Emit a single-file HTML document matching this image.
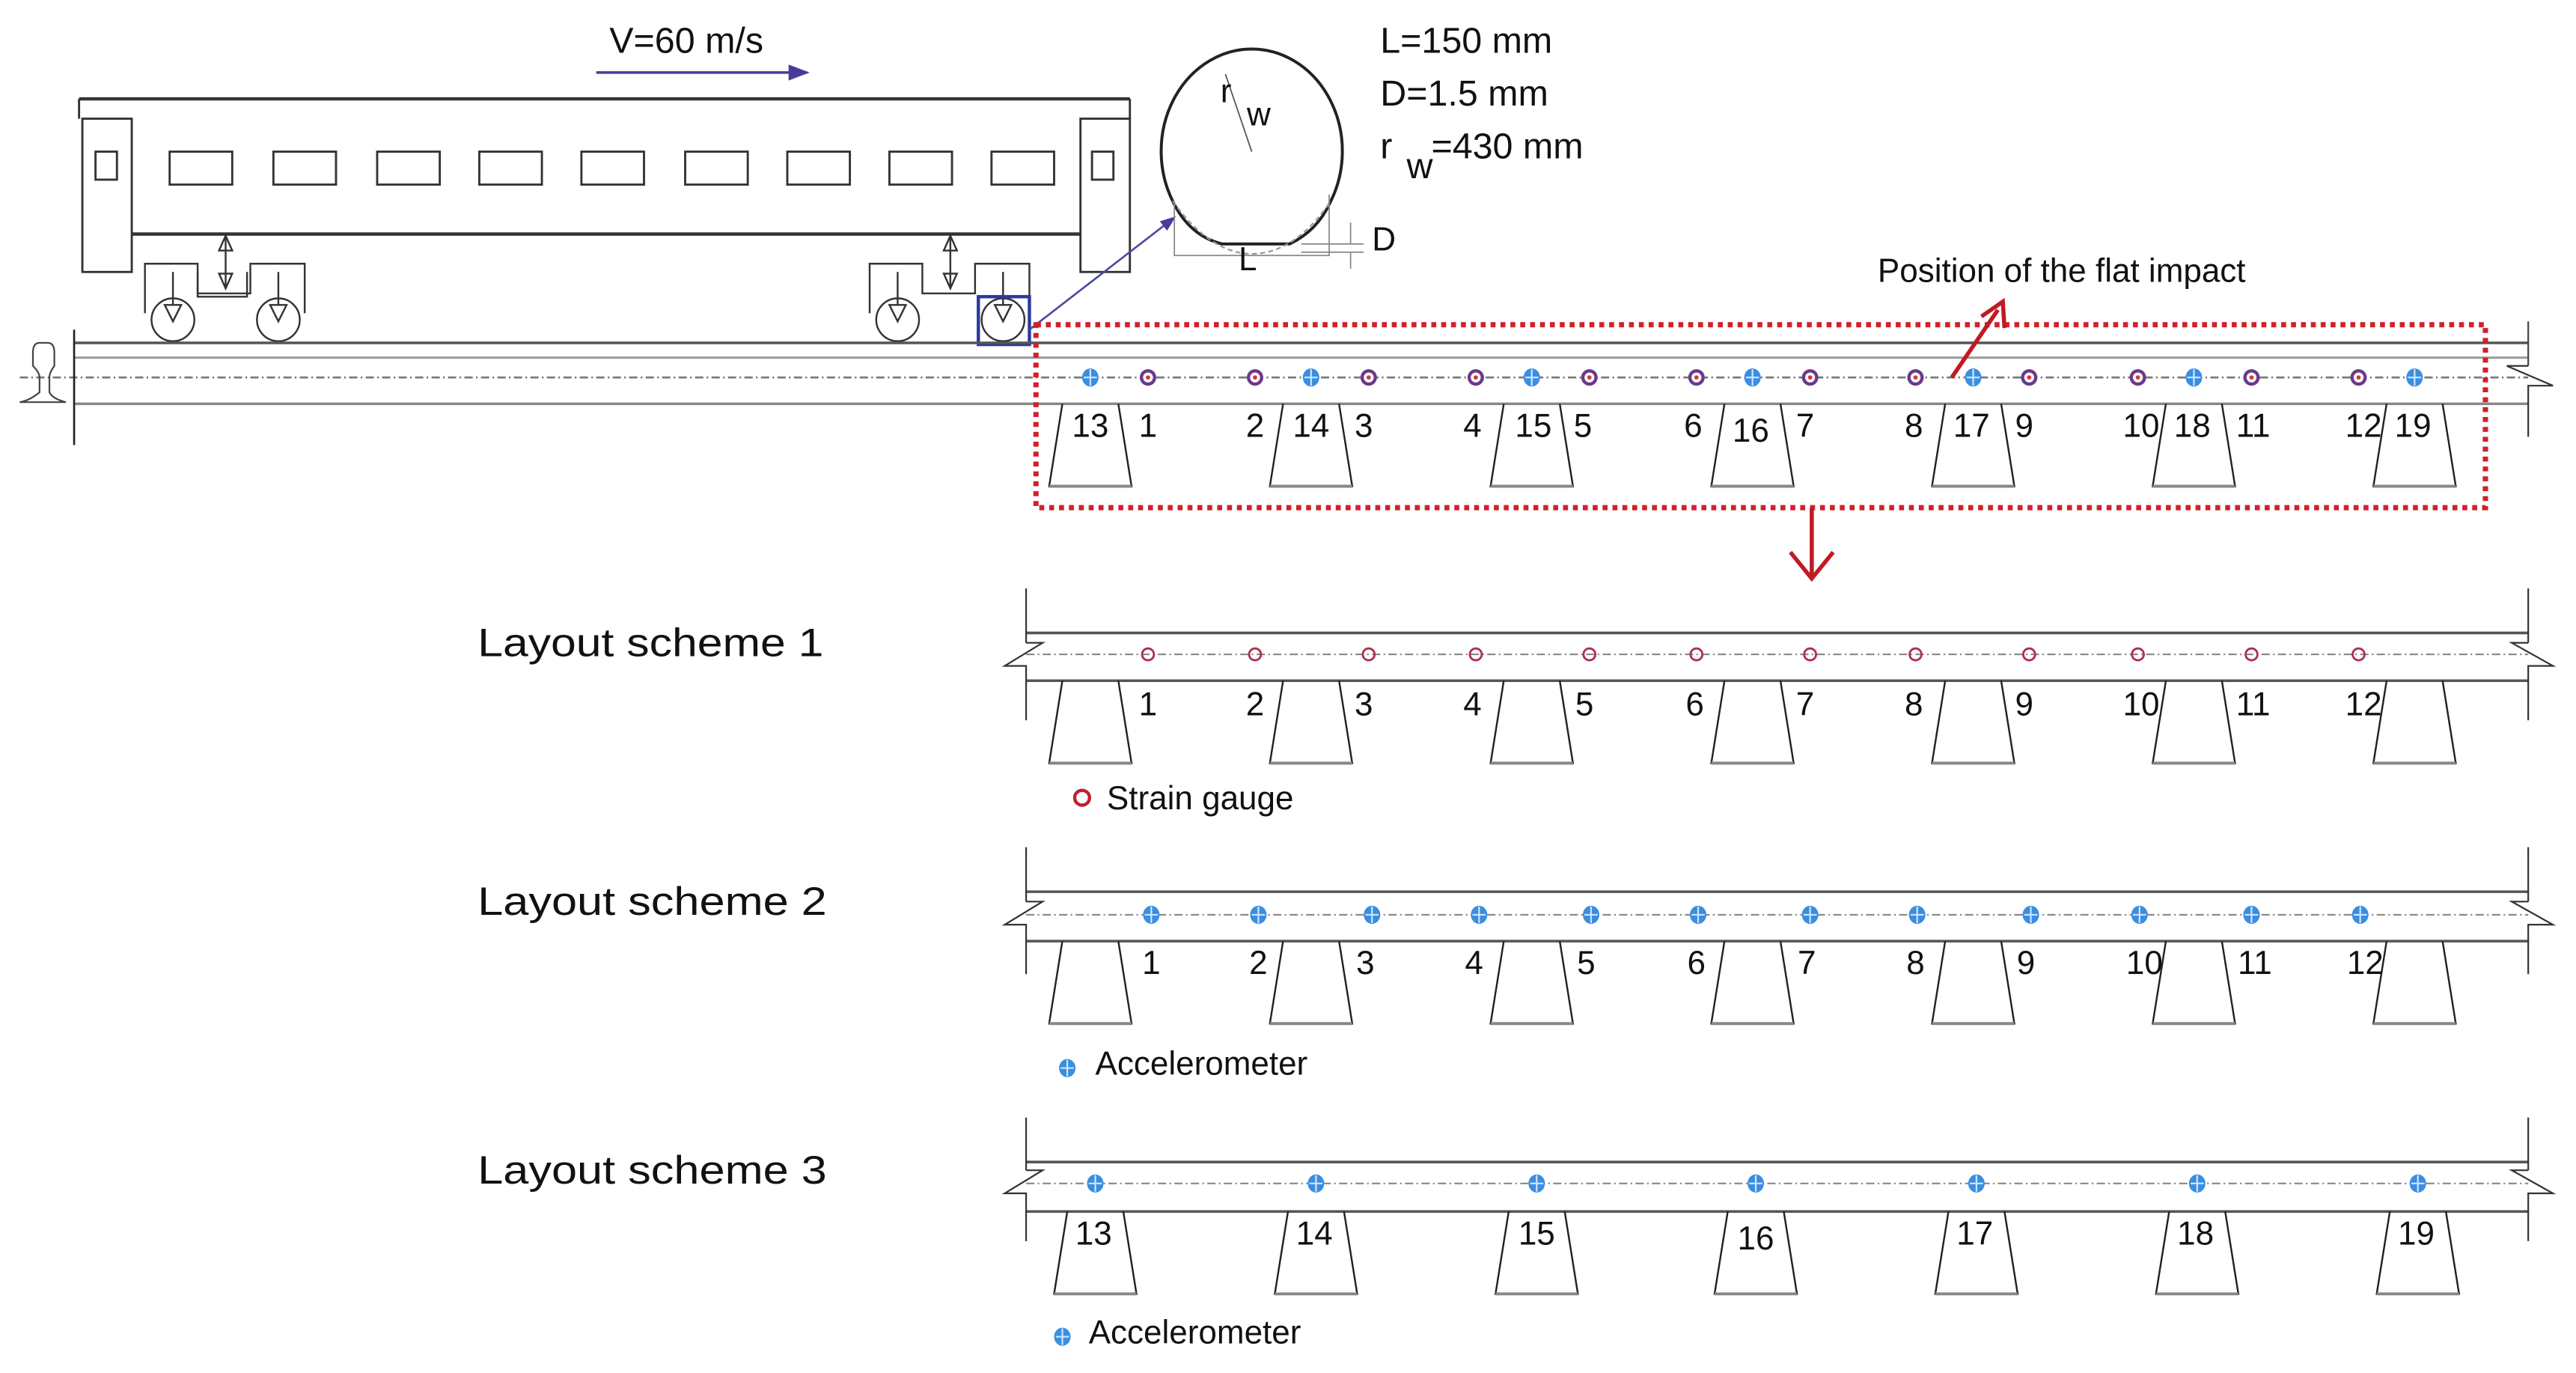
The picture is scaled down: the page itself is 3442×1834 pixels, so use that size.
<!DOCTYPE html>
<html><head><meta charset="utf-8"><style>
html,body{margin:0;padding:0;background:#fff;}
svg{display:block}
text{font-family:"Liberation Sans",sans-serif;fill:#111}
</style></head><body>
<svg width="3442" height="1834" viewBox="0 0 1564 833" preserveAspectRatio="none" xmlns="http://www.w3.org/2000/svg">
<defs>
<g id="sg"><circle r="5" fill="#6a3a8a"/><circle r="3" fill="#fff"/><circle r="1.3" fill="#d33"/></g>
<g id="sgs"><circle r="3.6" fill="none" stroke="#b03050" stroke-width="1.3"/></g>
<g id="ac"><ellipse rx="5" ry="5.5" fill="#3a8ee0"/><line x1="-4" y1="0" x2="4" y2="0" stroke="#cfe6ff" stroke-width="1"/><line x1="0" y1="-5" x2="0" y2="5" stroke="#cfe6ff" stroke-width="1"/></g>
<g id="sl"><path d="M-17,0 L-25,50 L25,50 L17,0" fill="none" stroke="#222" stroke-width="1.1"/><line x1="-25" y1="50" x2="25" y2="50" stroke="#888" stroke-width="1.8"/></g>
<marker id="ab" markerWidth="8" markerHeight="8" refX="7" refY="4" orient="auto"><path d="M0,1 L8,4 L0,7 z" fill="#4a3a9a"/></marker>
</defs>

<!-- velocity -->
<text x="370" y="32" font-size="22">V=60 m/s</text>
<line x1="362" y1="44" x2="490" y2="44" stroke="#4a3a9a" stroke-width="1.6" marker-end="url(#ab)"/>

<!-- train body -->
<g fill="none" stroke="#333" stroke-width="1.3">
<line x1="48" y1="60" x2="686" y2="60" stroke-width="2"/>
<line x1="48" y1="60" x2="48" y2="72"/><line x1="686" y1="60" x2="686" y2="72"/>
<rect x="50" y="72" width="30" height="93"/>
<rect x="656" y="72" width="30" height="93"/>
<line x1="80" y1="142" x2="656" y2="142" stroke-width="2"/>
<rect x="58" y="92" width="13" height="17"/><rect x="663" y="92" width="13" height="17"/>
<rect x="103" y="92" width="38" height="20"/><rect x="166" y="92" width="38" height="20"/>
<rect x="229" y="92" width="38" height="20"/><rect x="291" y="92" width="38" height="20"/>
<rect x="353" y="92" width="38" height="20"/><rect x="416" y="92" width="38" height="20"/>
<rect x="478" y="92" width="38" height="20"/><rect x="540" y="92" width="38" height="20"/>
<rect x="602" y="92" width="38" height="20"/>
</g>
<!-- bogies -->
<g fill="none" stroke="#333" stroke-width="1.1">
<path d="M88,190 V160 H110 M163,160 H185 V190 M120,165 V180 H150 V165"/>
<path d="M88,160 H120 V178 H152 V160 H185" />
<circle cx="105" cy="194" r="13"/><circle cx="169" cy="194" r="13"/>
<path d="M100,185 L105,195 L110,185 Z M164,185 L169,195 L174,185 Z"/>
<path d="M105,165 V185 M169,165 V185 M137,143 V175"/>
<path d="M133,152 L137,143 L141,152 Z M133,166 L137,175 L141,166 Z"/>
<path d="M528,190 V160 H550 M603,160 H625 V190"/>
<path d="M528,160 H560 V178 H592 V160 H625" />
<circle cx="545" cy="194" r="13"/><circle cx="609" cy="194" r="13"/>
<path d="M540,185 L545,195 L550,185 Z M604,185 L609,195 L614,185 Z"/>
<path d="M545,165 V185 M609,165 V185 M577,143 V175"/>
<path d="M573,152 L577,143 L581,152 Z M573,166 L577,175 L581,166 Z"/>
</g>
<rect x="594" y="180" width="31" height="29" fill="none" stroke="#2a3a9a" stroke-width="2"/>
<line x1="625" y1="200" x2="713" y2="132" stroke="#4a4aa0" stroke-width="1.2" marker-end="url(#ab)"/>

<!-- wheel detail -->
<g fill="none" stroke="#222">
<path d="M712,122 A55,62 0 1 1 808,122" stroke-width="1.8"/>
<path d="M712,122 Q722,143 742,148 L783,148 Q800,140 808,122" stroke-width="1.8"/>
<path d="M712,122 Q735,154 760,154 Q786,154 808,122" stroke="#999" stroke-dasharray="3,2"/>
<line x1="744" y1="45" x2="760" y2="92" stroke="#555" stroke-width="0.8"/>
<path d="M713,122 V155 H807 V118" stroke="#888" stroke-width="0.8"/>
<line x1="790" y1="148" x2="828" y2="148" stroke="#888" stroke-width="0.8"/>
<line x1="790" y1="153" x2="828" y2="153" stroke="#888" stroke-width="0.8"/>
<line x1="820" y1="135" x2="820" y2="148" stroke="#888" stroke-width="0.8"/>
<line x1="820" y1="153" x2="820" y2="163" stroke="#888" stroke-width="0.8"/>
</g>
<text x="741" y="62" font-size="20">r</text><text x="757" y="76" font-size="20">w</text>
<text x="833" y="152" font-size="20">D</text><text x="752" y="164" font-size="20">L</text>
<text x="838" y="32" font-size="22">L=150 mm</text>
<text x="838" y="64" font-size="22">D=1.5 mm</text>
<text x="838" y="96" font-size="22">r</text><text x="854" y="108" font-size="22">w</text><text x="869" y="96" font-size="22">=430 mm</text>

<!-- main track -->
<g stroke="#555" fill="none">
<line x1="45" y1="208" x2="1535" y2="208" stroke-width="1.6"/>
<line x1="45" y1="217" x2="1535" y2="217" stroke="#999" stroke-width="1.4"/>
<line x1="12" y1="229" x2="1535" y2="229" stroke="#777" stroke-width="1.2" stroke-dasharray="5,2,1,2"/>
<line x1="45" y1="245" x2="1535" y2="245" stroke="#888" stroke-width="1.6"/>
<line x1="45" y1="200" x2="45" y2="270" stroke="#222" stroke-width="1.2"/>
<line x1="1535" y1="195" x2="1535" y2="222" stroke="#444"/>
<path d="M1535,222 L1522,222 L1550,234 L1535,234 V265" stroke="#333"/>
<path d="M24,208 Q20,208 20,214 L20,222 Q24,226 24,229 L24,238 Q18,243 12,244 L40,244 Q32,242 30,238 L30,229 Q30,226 33,222 L33,214 Q33,208 29,208 Z" stroke="#444"/>
</g>
<g>
<use href="#sl" x="662" y="245"/><use href="#sl" x="796" y="245"/><use href="#sl" x="930" y="245"/>
<use href="#sl" x="1064" y="245"/><use href="#sl" x="1198" y="245"/><use href="#sl" x="1332" y="245"/><use href="#sl" x="1466" y="245"/>
</g>
<g>
<use href="#ac" x="662" y="229"/><use href="#sg" x="697" y="229"/><use href="#sg" x="762" y="229"/>
<use href="#ac" x="796" y="229"/><use href="#sg" x="831" y="229"/><use href="#sg" x="896" y="229"/>
<use href="#ac" x="930" y="229"/><use href="#sg" x="965" y="229"/><use href="#sg" x="1030" y="229"/>
<use href="#ac" x="1064" y="229"/><use href="#sg" x="1099" y="229"/><use href="#sg" x="1163" y="229"/>
<use href="#ac" x="1198" y="229"/><use href="#sg" x="1232" y="229"/><use href="#sg" x="1298" y="229"/>
<use href="#ac" x="1332" y="229"/><use href="#sg" x="1367" y="229"/><use href="#sg" x="1432" y="229"/>
<use href="#ac" x="1466" y="229"/>
</g>
<g font-size="20" text-anchor="middle">
<text x="662" y="265">13</text><text x="697" y="265">1</text><text x="762" y="265">2</text>
<text x="796" y="265">14</text><text x="828" y="265">3</text><text x="894" y="265">4</text>
<text x="931" y="265">15</text><text x="961" y="265">5</text><text x="1028" y="265">6</text>
<text x="1063" y="268">16</text><text x="1096" y="265">7</text><text x="1162" y="265">8</text>
<text x="1197" y="265">17</text><text x="1229" y="265">9</text><text x="1300" y="265">10</text>
<text x="1331" y="265">18</text><text x="1368" y="265">11</text><text x="1435" y="265">12</text>
<text x="1465" y="265">19</text>
</g>

<rect x="629" y="197" width="880" height="111" fill="none" stroke="#d0202a" stroke-width="3.2" stroke-dasharray="3,3"/>
<text x="1140" y="171" font-size="20">Position of the flat impact</text>
<line x1="1185" y1="229" x2="1213" y2="188" stroke="#c01a24" stroke-width="2.5"/>
<path d="M1203,192 L1216,183 L1217,199" fill="none" stroke="#c01a24" stroke-width="2.5"/>
<line x1="1100" y1="308" x2="1100" y2="350" stroke="#c01a24" stroke-width="2.5"/>
<path d="M1087,335 L1100,351 L1113,335" fill="none" stroke="#c01a24" stroke-width="2.5"/>

<!-- Layout 1 -->
<text x="290" y="398" font-size="24" textLength="210" lengthAdjust="spacingAndGlyphs">Layout scheme 1</text>
<g stroke="#555" fill="none">
<line x1="623" y1="384" x2="1535" y2="384" stroke-width="1.6"/>
<line x1="623" y1="397" x2="1535" y2="397" stroke="#888" stroke-dasharray="5,2,1,2"/>
<line x1="623" y1="413" x2="1535" y2="413" stroke-width="1.6"/>
<line x1="623" y1="357" x2="623" y2="390" stroke="#333"/><path d="M623,390 L633,390 L610,404 L623,404 V437" stroke="#333"/>
<line x1="1535" y1="357" x2="1535" y2="390" stroke="#333"/><path d="M1535,390 L1525,390 L1550,404 L1535,404 V437" stroke="#333"/>
</g>
<use href="#sl" x="662" y="413"/><use href="#sl" x="796" y="413"/><use href="#sl" x="930" y="413"/>
<use href="#sl" x="1064" y="413"/><use href="#sl" x="1198" y="413"/><use href="#sl" x="1332" y="413"/><use href="#sl" x="1466" y="413"/>
<g>
<use href="#sgs" x="697" y="397"/><use href="#sgs" x="762" y="397"/><use href="#sgs" x="831" y="397"/>
<use href="#sgs" x="896" y="397"/><use href="#sgs" x="965" y="397"/><use href="#sgs" x="1030" y="397"/>
<use href="#sgs" x="1099" y="397"/><use href="#sgs" x="1163" y="397"/><use href="#sgs" x="1232" y="397"/>
<use href="#sgs" x="1298" y="397"/><use href="#sgs" x="1367" y="397"/><use href="#sgs" x="1432" y="397"/>
</g>
<g font-size="20" text-anchor="middle">
<text x="697" y="434">1</text><text x="762" y="434">2</text><text x="828" y="434">3</text>
<text x="894" y="434">4</text><text x="962" y="434">5</text><text x="1029" y="434">6</text>
<text x="1096" y="434">7</text><text x="1162" y="434">8</text><text x="1229" y="434">9</text>
<text x="1300" y="434">10</text><text x="1368" y="434">11</text><text x="1435" y="434">12</text>
</g>
<circle cx="657" cy="484" r="4.5" fill="none" stroke="#c02030" stroke-width="2"/>
<text x="672" y="491" font-size="20">Strain gauge</text>

<!-- Layout 2 -->
<text x="290" y="555" font-size="24" textLength="212" lengthAdjust="spacingAndGlyphs">Layout scheme 2</text>
<g stroke="#555" fill="none">
<line x1="623" y1="541" x2="1535" y2="541" stroke-width="1.6"/>
<line x1="623" y1="555" x2="1535" y2="555" stroke="#888" stroke-dasharray="5,2,1,2"/>
<line x1="623" y1="571" x2="1535" y2="571" stroke-width="1.6"/>
<line x1="623" y1="514" x2="623" y2="547" stroke="#333"/><path d="M623,547 L633,547 L610,561 L623,561 V591" stroke="#333"/>
<line x1="1535" y1="514" x2="1535" y2="547" stroke="#333"/><path d="M1535,547 L1525,547 L1550,561 L1535,561 V591" stroke="#333"/>
</g>
<use href="#sl" x="662" y="571"/><use href="#sl" x="796" y="571"/><use href="#sl" x="930" y="571"/>
<use href="#sl" x="1064" y="571"/><use href="#sl" x="1198" y="571"/><use href="#sl" x="1332" y="571"/><use href="#sl" x="1466" y="571"/>
<g>
<use href="#ac" x="699" y="555"/><use href="#ac" x="764" y="555"/><use href="#ac" x="833" y="555"/>
<use href="#ac" x="898" y="555"/><use href="#ac" x="966" y="555"/><use href="#ac" x="1031" y="555"/>
<use href="#ac" x="1099" y="555"/><use href="#ac" x="1164" y="555"/><use href="#ac" x="1233" y="555"/>
<use href="#ac" x="1299" y="555"/><use href="#ac" x="1367" y="555"/><use href="#ac" x="1433" y="555"/>
</g>
<g font-size="20" text-anchor="middle">
<text x="699" y="591">1</text><text x="764" y="591">2</text><text x="829" y="591">3</text>
<text x="895" y="591">4</text><text x="963" y="591">5</text><text x="1030" y="591">6</text>
<text x="1097" y="591">7</text><text x="1163" y="591">8</text><text x="1230" y="591">9</text>
<text x="1302" y="591">10</text><text x="1369" y="591">11</text><text x="1436" y="591">12</text>
</g>
<use href="#ac" x="648" y="648"/>
<text x="665" y="652" font-size="20">Accelerometer</text>

<!-- Layout 3 -->
<text x="290" y="718" font-size="24" textLength="212" lengthAdjust="spacingAndGlyphs">Layout scheme 3</text>
<g stroke="#555" fill="none">
<line x1="623" y1="705" x2="1535" y2="705" stroke-width="1.6"/>
<line x1="623" y1="718" x2="1535" y2="718" stroke="#888" stroke-dasharray="5,2,1,2"/>
<line x1="623" y1="735" x2="1535" y2="735" stroke-width="1.6"/>
<line x1="623" y1="678" x2="623" y2="710" stroke="#333"/><path d="M623,710 L633,710 L610,724 L623,724 V753" stroke="#333"/>
<line x1="1535" y1="678" x2="1535" y2="710" stroke="#333"/><path d="M1535,710 L1525,710 L1550,724 L1535,724 V753" stroke="#333"/>
</g>
<use href="#sl" x="665" y="735"/><use href="#sl" x="799" y="735"/><use href="#sl" x="933" y="735"/>
<use href="#sl" x="1066" y="735"/><use href="#sl" x="1200" y="735"/><use href="#sl" x="1334" y="735"/><use href="#sl" x="1468" y="735"/>
<g>
<use href="#ac" x="665" y="718"/><use href="#ac" x="799" y="718"/><use href="#ac" x="933" y="718"/>
<use href="#ac" x="1066" y="718"/><use href="#ac" x="1200" y="718"/><use href="#ac" x="1334" y="718"/><use href="#ac" x="1468" y="718"/>
</g>
<g font-size="20" text-anchor="middle">
<text x="664" y="755">13</text><text x="798" y="755">14</text><text x="933" y="755">15</text>
<text x="1066" y="758">16</text><text x="1199" y="755">17</text><text x="1333" y="755">18</text><text x="1467" y="755">19</text>
</g>
<use href="#ac" x="645" y="811"/>
<text x="661" y="815" font-size="20">Accelerometer</text>
</svg>
</body></html>
